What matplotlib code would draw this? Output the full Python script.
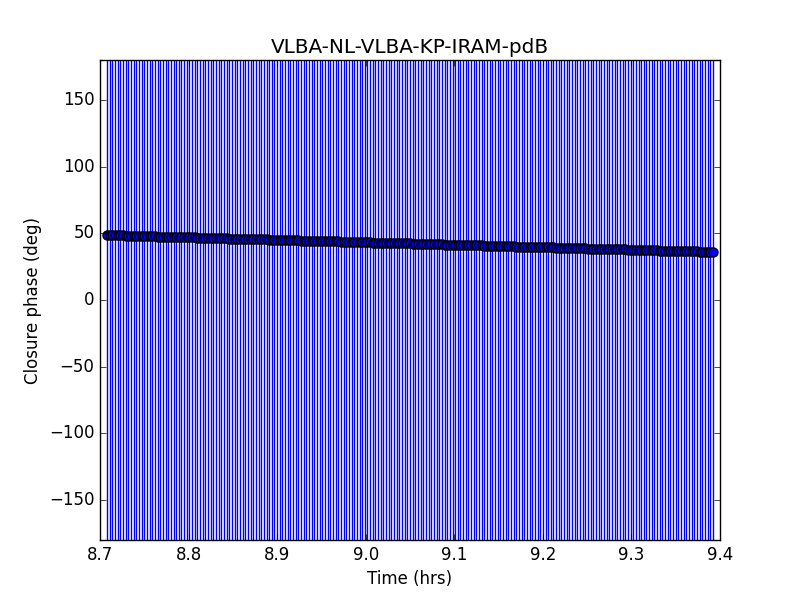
import matplotlib
matplotlib.use('Agg')
import matplotlib.pyplot as plt

# sample times (hrs)
times = [
    8.708, 8.711, 8.714, 8.717, 8.720, 8.723, 8.726, 8.729, 8.732, 8.735,
    8.738, 8.741, 8.744, 8.747, 8.750, 8.753, 8.756, 8.759, 8.762, 8.765,
    8.768, 8.771, 8.774, 8.777, 8.780, 8.783, 8.786, 8.789, 8.792, 8.795,
    8.798, 8.801, 8.804, 8.807, 8.810, 8.813, 8.816, 8.819, 8.822, 8.825,
    8.828, 8.831, 8.834, 8.837, 8.840, 8.843, 8.846, 8.849, 8.852, 8.855,
    8.858, 8.861, 8.864, 8.867, 8.870, 8.873, 8.876, 8.879, 8.882, 8.885,
    8.888, 8.891, 8.894, 8.897, 8.900, 8.903, 8.906, 8.909, 8.912, 8.915,
    8.918, 8.921, 8.924, 8.927, 8.930, 8.933, 8.936, 8.939, 8.942, 8.945,
    8.948, 8.951, 8.954, 8.957, 8.960, 8.963, 8.966, 8.969, 8.972, 8.975,
    8.978, 8.981, 8.984, 8.987, 8.990, 8.993, 8.996, 8.999, 9.002, 9.005,
    9.008, 9.011, 9.014, 9.017, 9.020, 9.023, 9.026, 9.029, 9.032, 9.035,
    9.038, 9.041, 9.044, 9.047, 9.050, 9.053, 9.056, 9.059, 9.062, 9.065,
    9.068, 9.071, 9.074, 9.077, 9.080, 9.083, 9.086, 9.089, 9.092, 9.095,
    9.098, 9.101, 9.104, 9.107, 9.110, 9.113, 9.116, 9.119, 9.122, 9.125,
    9.128, 9.131, 9.134, 9.137, 9.140, 9.143, 9.146, 9.149, 9.152, 9.155,
    9.158, 9.161, 9.164, 9.167, 9.170, 9.173, 9.176, 9.179, 9.182, 9.185,
    9.188, 9.191, 9.194, 9.197, 9.200, 9.203, 9.206, 9.209, 9.212, 9.215,
    9.218, 9.221, 9.224, 9.227, 9.230, 9.233, 9.236, 9.239, 9.242, 9.245,
    9.248, 9.251, 9.254, 9.257, 9.260, 9.263, 9.266, 9.269, 9.272, 9.275,
    9.278, 9.281, 9.284, 9.287, 9.290, 9.293, 9.296, 9.299, 9.302, 9.305,
    9.308, 9.311, 9.314, 9.317, 9.320, 9.323, 9.326, 9.329, 9.332, 9.335,
    9.338, 9.341, 9.344, 9.347, 9.350, 9.353, 9.356, 9.359, 9.362, 9.365,
    9.368, 9.371, 9.374, 9.377, 9.380, 9.383, 9.386, 9.389, 9.392,
]

# closure phase (deg)
phases = [
    48.7, 48.6, 48.6, 48.5, 48.5, 48.4, 48.4, 48.3, 48.3,
    48.2, 48.1, 48.1, 48.0, 48.0, 47.9, 47.9, 47.8, 47.8,
    47.7, 47.6, 47.6, 47.5, 47.5, 47.4, 47.4, 47.3, 47.3,
    47.2, 47.1, 47.1, 47.0, 47.0, 46.9, 46.9, 46.8, 46.8,
    46.7, 46.6, 46.6, 46.5, 46.5, 46.4, 46.4, 46.3, 46.3,
    46.2, 46.1, 46.1, 46.0, 46.0, 45.9, 45.9, 45.8, 45.8,
    45.7, 45.6, 45.6, 45.5, 45.5, 45.4, 45.4, 45.3, 45.3,
    45.2, 45.1, 45.1, 45.0, 45.0, 44.9, 44.9, 44.8, 44.8,
    44.7, 44.6, 44.6, 44.5, 44.5, 44.4, 44.4, 44.3, 44.3,
    44.2, 44.1, 44.1, 44.0, 44.0, 43.9, 43.9, 43.8, 43.8,
    43.7, 43.6, 43.6, 43.5, 43.5, 43.4, 43.4, 43.3, 43.3,
    43.2, 43.1, 43.1, 43.0, 43.0, 42.9, 42.9, 42.8, 42.8,
    42.7, 42.6, 42.6, 42.5, 42.5, 42.4, 42.4, 42.3, 42.3,
    42.2, 42.1, 42.1, 42.0, 42.0, 41.9, 41.9, 41.8, 41.8,
    41.7, 41.6, 41.6, 41.5, 41.5, 41.4, 41.4, 41.3, 41.3,
    41.2, 41.1, 41.1, 41.0, 41.0, 40.9, 40.9, 40.8, 40.8,
    40.7, 40.6, 40.6, 40.5, 40.5, 40.4, 40.4, 40.3, 40.3,
    40.2, 40.1, 40.1, 40.0, 40.0, 39.9, 39.9, 39.8, 39.8,
    39.7, 39.6, 39.6, 39.5, 39.5, 39.4, 39.4, 39.3, 39.3,
    39.2, 39.1, 39.1, 39.0, 39.0, 38.9, 38.9, 38.8, 38.8,
    38.7, 38.6, 38.6, 38.5, 38.5, 38.4, 38.4, 38.3, 38.3,
    38.2, 38.1, 38.1, 38.0, 38.0, 37.9, 37.9, 37.8, 37.8,
    37.7, 37.6, 37.6, 37.5, 37.5, 37.4, 37.4, 37.3, 37.3,
    37.2, 37.1, 37.1, 37.0, 37.0, 36.9, 36.9, 36.8, 36.8,
    36.7, 36.6, 36.6, 36.5, 36.5, 36.4, 36.4, 36.3, 36.3,
    36.2, 36.1, 36.1, 36.0,
]

# error on closure phase (deg) - huge, bars run off the plot
phase_err = 260.0

x_ticks = [8.7, 8.8, 8.9, 9.0, 9.1, 9.2, 9.3, 9.4]
y_ticks = [-150, -100, -50, 0, 50, 100, 150]

plt.style.use('classic')
fig = plt.figure(figsize=(8, 6), dpi=100, facecolor='white')
ax = fig.add_subplot(111)

ax.errorbar(times, phases, yerr=phase_err, fmt='o', color='b',
            ecolor='b', markeredgecolor='k', markeredgewidth=1.0,
            markersize=6.5, capsize=0)

ax.set_xlim(8.7, 9.4)
ax.set_ylim(-180, 180)
ax.set_xticks(x_ticks)
ax.set_yticks(y_ticks)
ax.set_xlabel('Time (hrs)')
ax.set_ylabel('Closure phase (deg)')
ax.set_title('VLBA-NL-VLBA-KP-IRAM-pdB')

fig.savefig('out.png', dpi=100, facecolor='white')
